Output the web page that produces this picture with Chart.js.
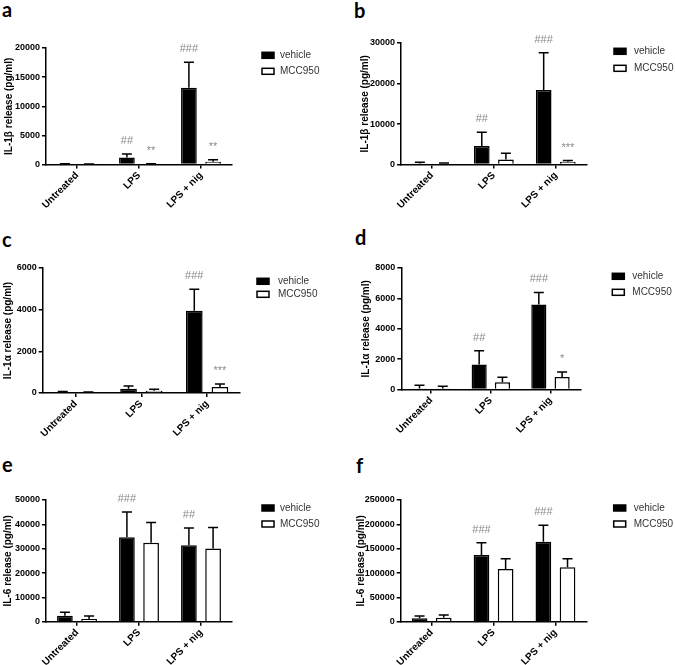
<!DOCTYPE html>
<html>
<head>
<meta charset="utf-8">
<script src="https://cdn.jsdelivr.net/npm/chart.js@4.4.1/dist/chart.umd.min.js"></script>
<style>
  body { margin: 0; background: #fff; width: 675px; height: 665px; position: relative; overflow: hidden; }
  canvas { position: absolute; }
  .tag { position: absolute; font: bold 20px Lato, "Open Sans", sans-serif; line-height: 1; color: #000; }
</style>
</head>
<body>
<div class="tag" style="left:2px;top:-1px">a</div>
<div class="tag" style="left:354px;top:0px">b</div>
<div class="tag" style="left:2px;top:229px">c</div>
<div class="tag" style="left:355px;top:227px">d</div>
<div class="tag" style="left:2px;top:454px">e</div>
<div class="tag" style="left:356px;top:455px">f</div>

<canvas id="chartA"></canvas>
<canvas id="chartB"></canvas>
<canvas id="chartC"></canvas>
<canvas id="chartD"></canvas>
<canvas id="chartE"></canvas>
<canvas id="chartF"></canvas>

<script>
// Shared categories / series names
const categories = ['Untreated', 'LPS', 'LPS + nig'];
const seriesNames = ['vehicle', 'MCC950'];

// a - IL-1β (first experiment)
const aVehicle = [100, 1200, 13200];
const aVehicleErr = [60, 600, 4350];
const aMcc = [60, 100, 500];
const aMccErr = [30, 50, 350];
const aVehicleSig = ['', '##', '###'];
const aMccSig = ['', '**', '**'];
const aTicks = [0, 5000, 10000, 15000, 20000];

// b - IL-1β (second experiment)
const bVehicle = [300, 4600, 18400];
const bVehicleErr = [300, 3400, 9200];
const bMcc = [200, 1250, 700];
const bMccErr = [200, 1550, 300];
const bVehicleSig = ['', '##', '###'];
const bMccSig = ['', '', '***'];
const bTicks = [0, 10000, 20000, 30000];

// c - IL-1α (first experiment)
const cVehicle = [40, 210, 3950];
const cVehicleErr = [30, 125, 1030];
const cMcc = [30, 110, 290];
const cMccErr = [20, 65, 145];
const cVehicleSig = ['', '', '###'];
const cMccSig = ['', '', '***'];
const cTicks = [0, 2000, 4000, 6000];

// d - IL-1α (second experiment)
const dVehicle = [70, 1650, 5600];
const dVehicleErr = [210, 900, 790];
const dMcc = [70, 480, 830];
const dMccErr = [150, 330, 330];
const dVehicleSig = ['', '##', '###'];
const dMccSig = ['', '', '*'];
const dTicks = [0, 2000, 4000, 6000, 8000];

// e - IL-6 (first experiment)
const eVehicle = [2450, 34650, 31400];
const eVehicleErr = [1400, 10400, 7100];
const eMcc = [1100, 32450, 30100];
const eMccErr = [1200, 8350, 8600];
const eVehicleSig = ['', '###', '##'];
const eMccSig = ['', '', ''];
const eTicks = [0, 10000, 20000, 30000, 40000, 50000];

// f - IL-6 (second experiment)
const fVehicle = [6850, 137000, 164400];
const fVehicleErr = [4800, 25300, 33600];
const fMcc = [8200, 108200, 111600];
const fMccErr = [5500, 21200, 17800];
const fVehicleSig = ['', '###', '###'];
const fMccSig = ['', '', ''];
const fTicks = [0, 50000, 100000, 150000, 200000, 250000];

Chart.defaults.font.family = '"Liberation Sans", Arial, sans-serif';
Chart.defaults.color = '#000';

// error bars (upward only, GraphPad style) + significance marks
const errorBarPlugin = {
    id: 'errorBars',
    afterDatasetsDraw(chart) {
        const ctx = chart.ctx;
        const yScale = chart.scales.y;
        chart.data.datasets.forEach((ds, i) => {
            const meta = chart.getDatasetMeta(i);
            meta.data.forEach((bar, j) => {
                const top = yScale.getPixelForValue(ds.data[j] + ds.errors[j]);
                ctx.save();
                ctx.strokeStyle = '#000';
                ctx.lineWidth = 1.5;
                ctx.beginPath();
                ctx.moveTo(bar.x, bar.y);
                ctx.lineTo(bar.x, top);
                ctx.moveTo(bar.x - 5, top);
                ctx.lineTo(bar.x + 5, top);
                ctx.stroke();
                if (ds.marks[j]) {
                    ctx.fillStyle = '#8a8a8a';
                    ctx.font = '11px "Liberation Sans", Arial, sans-serif';
                    ctx.textAlign = 'center';
                    ctx.textBaseline = 'alphabetic';
                    ctx.fillText(ds.marks[j], bar.x, top - 10);
                }
                ctx.restore();
            });
        });
    }
};

// small legend on the right side of each panel
const boxLegendPlugin = {
    id: 'boxLegend',
    afterDraw(chart, args, opts) {
        const ctx = chart.ctx;
        chart.data.datasets.forEach((ds, i) => {
            const y = opts.ys[i];
            ctx.save();
            ctx.fillStyle = ds.backgroundColor;
            ctx.fillRect(opts.boxX, y - 3, 12, 6);
            ctx.strokeStyle = '#000';
            ctx.lineWidth = 1.5;
            ctx.strokeRect(opts.boxX, y - 3, 12, 6);
            ctx.fillStyle = '#333';
            ctx.font = '10px "Liberation Sans", Arial, sans-serif';
            ctx.textAlign = 'left';
            ctx.textBaseline = 'middle';
            ctx.fillText(ds.label, opts.textX, y);
            ctx.restore();
        });
    }
};

// page layout for each panel: plot area edges, y title centre and legend spots
function makePanel(id, cfg) {
    const ox = cfg.titleX - 8;
    const oy = cfg.top - 40;
    const width = Math.round(cfg.canvasRight - ox);
    const height = Math.round(cfg.bottom - oy + 60);
    const canvas = document.getElementById(id);
    canvas.width = width;
    canvas.height = height;
    canvas.style.left = ox + 'px';
    canvas.style.top = oy + 'px';
    canvas.style.width = width + 'px';
    canvas.style.height = height + 'px';

    const yWidth = cfg.left - ox;
    const xHeight = 55;

    return new Chart(canvas.getContext('2d'), {
        type: 'bar',
        data: {
            labels: categories,
            datasets: [{
                label: seriesNames[0],
                data: cfg.vehicle,
                errors: cfg.vehicleErr,
                marks: cfg.vehicleSig,
                backgroundColor: '#000',
                borderColor: '#000',
                borderWidth: 1.5,
                categoryPercentage: 0.78,
                barPercentage: 0.65
            }, {
                label: seriesNames[1],
                data: cfg.mcc,
                errors: cfg.mccErr,
                marks: cfg.mccSig,
                backgroundColor: '#fff',
                borderColor: '#000',
                borderWidth: 1.5,
                categoryPercentage: 0.78,
                barPercentage: 0.65
            }]
        },
        options: {
            responsive: false,
            animation: false,
            layout: {
                padding: { left: 0, top: 40, right: ox + width - cfg.right, bottom: height - (cfg.bottom - oy) - xHeight }
            },
            plugins: {
                legend: { display: false },
                tooltip: { enabled: false },
                boxLegend: { boxX: cfg.boxX - ox, textX: cfg.textX - ox, ys: [cfg.ly1 - oy, cfg.ly2 - oy] }
            },
            scales: {
                x: {
                    offset: true,
                    grid: { display: true, drawOnChartArea: false, drawTicks: true, tickLength: 4, offset: false, color: '#000', lineWidth: 1.5 },
                    border: { display: true, color: '#000', width: 1.5 },
                    ticks: {
                        maxRotation: 45, minRotation: 45, padding: 1,
                        font: { size: 10, weight: 'bold' }, color: '#000'
                    },
                    afterFit(scale) { scale.height = xHeight; }
                },
                y: {
                    min: 0,
                    max: cfg.ticks[cfg.ticks.length - 1],
                    afterBuildTicks(scale) { scale.ticks = cfg.ticks.map(v => ({ value: v })); },
                    grid: { display: true, drawOnChartArea: false, drawTicks: true, tickLength: 4, color: '#000', lineWidth: 1.5 },
                    border: { display: true, color: '#000', width: 1.5 },
                    ticks: {
                        padding: 2,
                        font: { size: 9, weight: 'bold' },
                        color: '#000',
                        callback: value => String(value)
                    },
                    title: {
                        display: true,
                        text: cfg.title,
                        padding: { top: 2, bottom: 0 },
                        font: { size: 10, weight: 'bold' },
                        color: '#000'
                    },
                    afterFit(scale) { scale.width = yWidth; }
                }
            }
        },
        plugins: [errorBarPlugin, boxLegendPlugin]
    });
}

makePanel('chartA', {
    vehicle: aVehicle, vehicleErr: aVehicleErr, vehicleSig: aVehicleSig,
    mcc: aMcc, mccErr: aMccErr, mccSig: aMccSig, ticks: aTicks,
    title: 'IL-1β release (pg/ml)',
    left: 46, top: 47.7, right: 232, bottom: 164.3, titleX: 9, canvasRight: 335,
    boxX: 262, textX: 280, ly1: 55, ly2: 71
});
makePanel('chartB', {
    vehicle: bVehicle, vehicleErr: bVehicleErr, vehicleSig: bVehicleSig,
    mcc: bMcc, mccErr: bMccErr, mccSig: bMccSig, ticks: bTicks,
    title: 'IL-1β release (pg/ml)',
    left: 401, top: 42.7, right: 586.7, bottom: 164.3, titleX: 365, canvasRight: 675,
    boxX: 614, textX: 634, ly1: 51, ly2: 68
});
makePanel('chartC', {
    vehicle: cVehicle, vehicleErr: cVehicleErr, vehicleSig: cVehicleSig,
    mcc: cMcc, mccErr: cMccErr, mccSig: cMccSig, ticks: cTicks,
    title: 'IL-1α release (pg/ml)',
    left: 42.7, top: 267.7, right: 240, bottom: 392.7, titleX: 8, canvasRight: 335,
    boxX: 257, textX: 278, ly1: 281, ly2: 294
});
makePanel('chartD', {
    vehicle: dVehicle, vehicleErr: dVehicleErr, vehicleSig: dVehicleSig,
    mcc: dMcc, mccErr: dMccErr, mccSig: dMccSig, ticks: dTicks,
    title: 'IL-1α release (pg/ml)',
    left: 401, top: 267.7, right: 580, bottom: 389.3, titleX: 365.7, canvasRight: 675,
    boxX: 612, textX: 632, ly1: 276, ly2: 292
});
makePanel('chartE', {
    vehicle: eVehicle, vehicleErr: eVehicleErr, vehicleSig: eVehicleSig,
    mcc: eMcc, mccErr: eMccErr, mccSig: eMccSig, ticks: eTicks,
    title: 'IL-6 release (pg/ml)',
    left: 46, top: 500, right: 232, bottom: 621.7, titleX: 8, canvasRight: 335,
    boxX: 262, textX: 280, ly1: 508, ly2: 524
});
makePanel('chartF', {
    vehicle: fVehicle, vehicleErr: fVehicleErr, vehicleSig: fVehicleSig,
    mcc: fMcc, mccErr: fMccErr, mccSig: fMccSig, ticks: fTicks,
    title: 'IL-6 release (pg/ml)',
    left: 401, top: 500, right: 586.7, bottom: 621.7, titleX: 361.3, canvasRight: 675,
    boxX: 614, textX: 634, ly1: 508, ly2: 524
});
</script>
</body>
</html>
